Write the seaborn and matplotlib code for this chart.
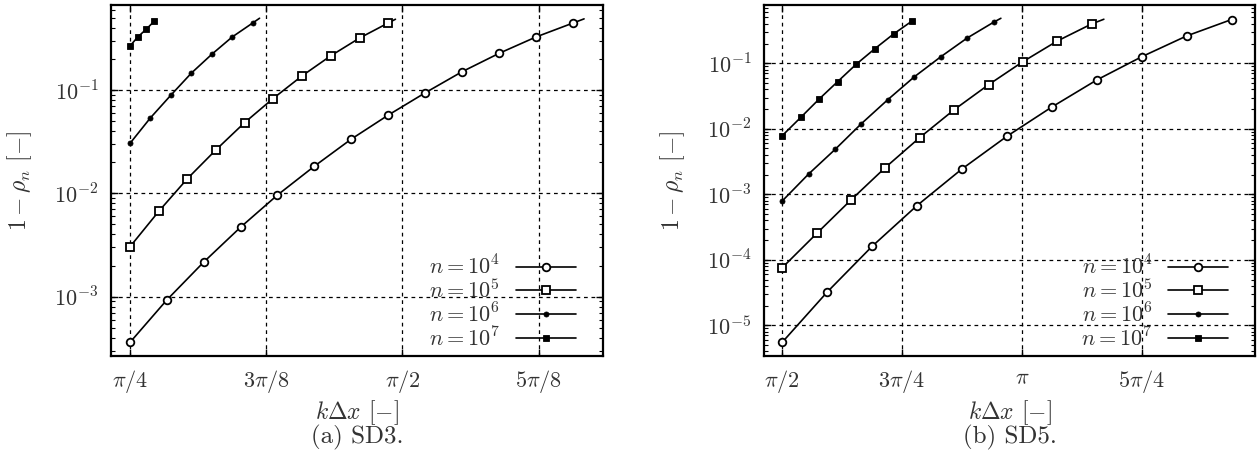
import numpy as np
import matplotlib
matplotlib.use("Agg")
import matplotlib.pyplot as plt
import seaborn as sns
from matplotlib.ticker import FixedLocator, FixedFormatter, LogLocator, NullFormatter

# ---------------- data: SD3 ----------------
sd3_x_n4 = [0.7854, 0.8914, 0.9982, 1.1039, 1.2099, 1.3167, 1.4227, 1.5295, 1.6364, 1.7421, 1.8489, 1.9558, 2.0626, 2.0944]
sd3_y_n4 = [3.62e-4, 9.3e-4, 2.17e-3, 4.70e-3, 9.6e-3, 1.83e-2, 3.34e-2, 5.71e-2, 9.4e-2, 0.150, 0.226, 0.326, 0.445, 0.488]
sd3_x_n5 = [0.7854, 0.8691, 0.9509, 1.0337, 1.1155, 1.1975, 1.2812, 1.3638, 1.4475, 1.5295, 1.5506]
sd3_y_n5 = [3.05e-3, 6.76e-3, 1.39e-2, 2.65e-2, 4.83e-2, 8.26e-2, 0.137, 0.214, 0.319, 0.445, 0.484]
sd3_x_n6 = [0.7854, 0.8440, 0.9029, 0.9624, 1.0213, 1.0799, 1.1406, 1.1588]
sd3_y_n6 = [3.05e-2, 5.37e-2, 8.9e-2, 0.146, 0.222, 0.326, 0.449, 0.495]
sd3_x_n7 = [0.7854, 0.8076, 0.8316, 0.8556]
sd3_y_n7 = [0.267, 0.326, 0.386, 0.465]

# ---------------- data: SD5 ----------------
sd5_x_n4 = [1.5708, 1.8655, 2.1602, 2.4529, 2.7477, 3.0423, 3.3370, 3.6317, 3.9263, 4.2191, 4.5138]
sd5_y_n4 = [5.5e-6, 3.22e-5, 1.61e-4, 6.7e-4, 2.43e-3, 7.67e-3, 2.15e-2, 5.57e-2, 0.126, 0.261, 0.465]
sd5_x_n5 = [1.5708, 1.7980, 2.0207, 2.2453, 2.4706, 2.6952, 2.9224, 3.1451, 3.3697, 3.5970, 3.6775]
sd5_y_n5 = [7.57e-5, 2.54e-4, 8.18e-4, 2.55e-3, 7.31e-3, 1.94e-2, 4.71e-2, 0.105, 0.217, 0.398, 0.47]
sd5_x_n6 = [1.5708, 1.7437, 1.9179, 2.0882, 2.2630, 2.4352, 2.6101, 2.7823, 2.9552, 3.0030]
sd5_y_n6 = [7.9e-4, 2.04e-3, 4.86e-3, 1.19e-2, 2.79e-2, 6.19e-2, 0.126, 0.243, 0.423, 0.486]
sd5_x_n7 = [1.5708, 1.6933, 1.8131, 1.9336, 2.0554, 2.1779, 2.3003, 2.4221]
sd5_y_n7 = [7.85e-3, 1.50e-2, 2.85e-2, 5.24e-2, 9.66e-2, 0.167, 0.280, 0.443]

series_labels = [r"$n = 10^4$", r"$n = 10^5$", r"$n = 10^6$", r"$n = 10^7$"]

sd3_xticks = [np.pi / 4, 3 * np.pi / 8, np.pi / 2, 5 * np.pi / 8]
sd3_xticklabels = [r"$\pi/4$", r"$3\pi/8$", r"$\pi/2$", r"$5\pi/8$"]
sd5_xticks = [np.pi / 2, 3 * np.pi / 4, np.pi, 5 * np.pi / 4]
sd5_xticklabels = [r"$\pi/2$", r"$3\pi/4$", r"$\pi$", r"$5\pi/4$"]

captions = ["(a) SD3.", "(b) SD5."]

# ---------------- style ----------------
sns.set_theme(style="ticks")
plt.rcParams["font.family"] = ["serif"]
plt.rcParams["font.serif"] = ["cmr10", "DejaVu Serif"]
plt.rcParams["mathtext.fontset"] = "cm"
plt.rcParams["axes.formatter.use_mathtext"] = True
plt.rcParams["axes.unicode_minus"] = True
FS = 16
FS_LAB = 17
FS_CAP = 18
TXT = "#333333"

styles = [
    dict(marker="o", markersize=5.5, markerfacecolor="white", markeredgecolor="black", markeredgewidth=1.3),
    dict(marker="s", markersize=6.0, markerfacecolor="white", markeredgecolor="black", markeredgewidth=1.3),
    dict(marker="o", markersize=3.6, markerfacecolor="black", markeredgecolor="black", markeredgewidth=0.6),
    dict(marker="s", markersize=4.2, markerfacecolor="black", markeredgecolor="black", markeredgewidth=0.6),
]

fig = plt.figure(figsize=(12.6, 4.7), dpi=100)
ax1 = fig.add_axes([0.0881, 0.2426, 0.3902, 0.7468])
ax2 = fig.add_axes([0.6063, 0.2426, 0.3899, 0.7468])

panels = [
    (ax1, [(sd3_x_n4, sd3_y_n4, True), (sd3_x_n5, sd3_y_n5, True), (sd3_x_n6, sd3_y_n6, True), (sd3_x_n7, sd3_y_n7, False)],
     sd3_xticks, sd3_xticklabels, (0.7305, 2.148), (2.67e-4, 0.665), [1e-3, 1e-2, 1e-1],
     [r"$10^{-3}$", r"$10^{-2}$", r"$10^{-1}$"]),
    (ax2, [(sd5_x_n4, sd5_y_n4, False), (sd5_x_n5, sd5_y_n5, True), (sd5_x_n6, sd5_y_n6, True), (sd5_x_n7, sd5_y_n7, False)],
     sd5_xticks, sd5_xticklabels, (1.451, 4.669), (3.4e-6, 0.776), [1e-5, 1e-4, 1e-3, 1e-2, 1e-1],
     [r"$10^{-5}$", r"$10^{-4}$", r"$10^{-3}$", r"$10^{-2}$", r"$10^{-1}$"]),
]

for ax, data, xt, xtl, xlim, ylim, yt, ytl in panels:
    ax.set_yscale("log")
    for (xs, ys, has_end), st, lab in zip(data, styles, series_labels):
        n_mark = len(xs) - 1 if has_end else len(xs)
        sns.lineplot(x=xs, y=ys, ax=ax, color="black", linewidth=1.2, label=lab,
                     markevery=list(range(n_mark)), zorder=3, **st)
    ax.set_xlim(*xlim)
    ax.set_ylim(*ylim)
    ax.xaxis.set_major_locator(FixedLocator(xt))
    ax.xaxis.set_major_formatter(FixedFormatter(xtl))
    ax.yaxis.set_major_locator(FixedLocator(yt))
    ax.yaxis.set_major_formatter(FixedFormatter(ytl))
    ax.yaxis.set_minor_locator(LogLocator(base=10, subs=np.arange(2, 10)))
    ax.yaxis.set_minor_formatter(NullFormatter())
    ax.tick_params(which="both", direction="in", top=True, right=True, color="black",
                   labelsize=FS, labelcolor=TXT)
    ax.tick_params(which="major", length=5, width=1.0, pad=9)
    ax.tick_params(which="minor", length=3, width=0.8)
    ax.grid(True, which="major", color="black", linestyle=(0, (3, 3)), linewidth=0.9)
    for sp in ax.spines.values():
        sp.set_visible(True)
        sp.set_color("black")
        sp.set_linewidth(1.6)
    ax.set_xlabel(r"$k\Delta x$ [$-$]", fontsize=FS_LAB, color=TXT)
    ax.xaxis.set_label_coords(0.5, -0.16)
    ax.xaxis.label.set_va("center")
    ax.set_ylabel(r"$1-\rho_n$ [$-$]", fontsize=FS_LAB, color=TXT)
    ax.yaxis.set_label_coords(-0.185, 0.5)
    ax.yaxis.label.set_va("center")
    leg = ax.legend(loc="lower right", bbox_to_anchor=(0.945, 0.017), frameon=False,
                    markerfirst=False, fontsize=FS, handlelength=2.7, handletextpad=0.7,
                    labelspacing=0.0, borderaxespad=0.0, borderpad=0.0)
    for t in leg.get_texts():
        t.set_color(TXT)

fig.text(0.0881 + 0.3902 / 2, 0.07, captions[0], ha="center", va="center", fontsize=FS_CAP, color=TXT)
fig.text(0.6063 + 0.3899 / 2, 0.07, captions[1], ha="center", va="center", fontsize=FS_CAP, color=TXT)

fig.savefig("out.png", dpi=100, facecolor="white")
